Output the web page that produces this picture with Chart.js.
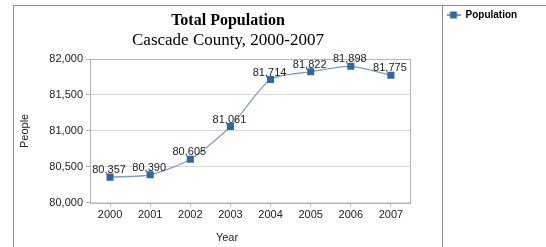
<!DOCTYPE html>
<html>
<head>
<meta charset="utf-8">
<script src="https://cdn.jsdelivr.net/npm/chart.js@4/dist/chart.umd.min.js"></script>
<style>
  html, body { margin: 0; padding: 0; background: #fff; }
</style>
</head>
<body>
<canvas id="myChart" width="546" height="247"></canvas>
<script>
// chart data
var years = ['2000', '2001', '2002', '2003', '2004', '2005', '2006', '2007'];
var population = [80357, 80390, 80605, 81061, 81714, 81822, 81898, 81775];
var yTicks = [80000, 80500, 81000, 81500, 82000];
var seriesName = 'Population';

var lineColor = '#819fc6';
var markerColor = '#336699';
var frameColor = '#8c8c8c';
var sans = '"Liberation Sans", Arial, sans-serif';
var serif = '"Liberation Serif", "Times New Roman", serif';

// little "-■-" icon for the legend
function legendIcon() {
  var c = document.createElement('canvas');
  c.width = 14;
  c.height = 8;
  var g = c.getContext('2d');
  g.fillStyle = lineColor;
  g.fillRect(0, 3, 14, 2);
  g.fillStyle = markerColor;
  g.fillRect(3.5, 0.5, 7, 7);
  return c;
}

// outer frame, plot box and the "Year" label
var framePlugin = {
  id: 'framePlugin',
  beforeDraw: function (chart) {
    var ctx = chart.ctx;
    ctx.save();
    ctx.fillStyle = '#fff';
    ctx.fillRect(0, 0, chart.width, chart.height);
    ctx.restore();
  },
  beforeDatasetsDraw: function (chart) {
    var a = chart.chartArea;
    var ctx = chart.ctx;
    ctx.save();
    ctx.strokeStyle = '#b4b4b4';
    ctx.lineWidth = 1;
    ctx.strokeRect(Math.round(a.left) + 0.5, Math.round(a.top) + 0.5,
      Math.round(a.right - a.left) - 1, Math.round(a.bottom - a.top));
    ctx.restore();
  },
  afterDraw: function (chart) {
    var ctx = chart.ctx;
    ctx.save();
    ctx.strokeStyle = frameColor;
    ctx.lineWidth = 1;
    ctx.beginPath();
    ctx.moveTo(13.5, chart.height);
    ctx.lineTo(13.5, 5.5);
    ctx.lineTo(chart.width, 5.5);
    ctx.moveTo(442.5, 5.5);
    ctx.lineTo(442.5, chart.height);
    ctx.stroke();
    ctx.fillStyle = '#222';
    ctx.font = '11px ' + sans;
    ctx.textAlign = 'center';
    ctx.textBaseline = 'middle';
    ctx.fillText('Year', 227, 238);
    ctx.restore();
  }
};

// value labels above the points
var pointLabels = {
  id: 'pointLabels',
  afterDatasetsDraw: function (chart) {
    var ctx = chart.ctx;
    var meta = chart.getDatasetMeta(0);
    ctx.save();
    ctx.font = '11px ' + sans;
    ctx.fillStyle = '#222';
    ctx.textAlign = 'center';
    ctx.textBaseline = 'middle';
    meta.data.forEach(function (pt, i) {
      ctx.fillText(population[i].toLocaleString('en-US'), pt.x - 1, pt.y - 7);
    });
    ctx.restore();
  }
};

// legend lives in the right panel, titles centre on the left panel
var layoutTweaks = {
  id: 'layoutTweaks',
  beforeLayout: function (chart) {
    var legend = chart.legend;
    if (legend && !legend._patched) {
      var fit = legend.fit;
      legend.fit = function () {
        fit.call(this);
        this.width = 135;
      };
      legend._patched = true;
    }
  },
  afterLayout: function (chart) {
    chart.boxes.forEach(function (b) {
      if (b.options && b.options.position === 'top' && b.options.text) {
        b.left = 13;
        b.right = 443;
        b.width = 430;
      }
    });
    chart.legend.left = 436.5;
  }
};

var ctx = document.getElementById('myChart');
var myChart = new Chart(ctx, {
  type: 'line',
  data: {
    labels: years,
    datasets: [{
      label: seriesName,
      data: population,
      borderColor: lineColor,
      borderWidth: 1.3,
      tension: 0.25,
      pointStyle: 'rect',
      pointRadius: 5,
      pointHoverRadius: 5,
      pointBackgroundColor: markerColor,
      pointBorderColor: markerColor,
      pointBorderWidth: 0
    }]
  },
  options: {
    responsive: false,
    animation: false,
    devicePixelRatio: 1,
    layout: { padding: { left: 13, right: 0, top: 0, bottom: 23 } },
    plugins: {
      tooltip: { enabled: false },
      title: {
        display: true,
        text: 'Total Population',
        color: '#000',
        font: { family: serif, size: 16, weight: 'bold', lineHeight: 1.2 },
        padding: { top: 11, bottom: 0 }
      },
      subtitle: {
        display: true,
        text: 'Cascade County, 2000-2007',
        color: '#000',
        font: { family: serif, size: 17, weight: 'normal', lineHeight: 1.2 },
        padding: { top: 0, bottom: 8.4 }
      },
      legend: {
        position: 'right',
        align: 'start',
        labels: {
          usePointStyle: true,
          pointStyleWidth: 14,
          padding: 10,
          color: '#000',
          font: { family: sans, size: 10, weight: 'bold' },
          generateLabels: function (chart) {
            var items = Chart.defaults.plugins.legend.labels.generateLabels(chart);
            var icon = legendIcon();
            items.forEach(function (it) { it.pointStyle = icon; });
            return items;
          }
        }
      }
    },
    scales: {
      x: {
        offset: true,
        border: { display: false },
        grid: {
          drawOnChartArea: false,
          tickLength: 4,
          tickColor: '#b4b4b4'
        },
        ticks: {
          padding: 2,
          color: '#222',
          font: { family: sans, size: 11 },
          maxRotation: 0
        }
      },
      y: {
        min: yTicks[0],
        max: yTicks[yTicks.length - 1],
        afterBuildTicks: function (s) {
          s.ticks = yTicks.map(function (v) { return { value: v }; });
        },
        afterFit: function (s) { s.width = 77; },
        border: { display: false },
        grid: {
          color: '#d9d9d9',
          tickLength: 4,
          tickColor: '#b4b4b4'
        },
        ticks: {
          padding: 3,
          color: '#222',
          font: { family: sans, size: 11 },
          callback: function (v) { return v.toLocaleString('en-US'); }
        },
        title: {
          display: true,
          text: 'People',
          color: '#222',
          font: { family: sans, size: 11 },
          padding: { top: 5.4, bottom: 0 }
        }
      }
    }
  },
  plugins: [framePlugin, pointLabels, layoutTweaks]
});
</script>
</body>
</html>
